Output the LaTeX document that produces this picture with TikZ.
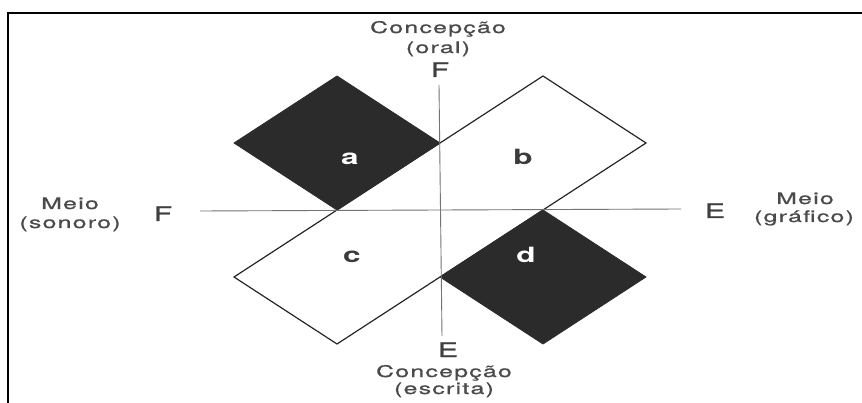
\documentclass[tikz,border=0pt]{standalone}
\usepackage{fontspec}
\setmainfont{TeX Gyre Heros}
\newfontfamily\labfont[FakeStretch=1.55,LetterSpace=8,FakeBold=0.9]{TeX Gyre Heros}
\newfontfamily\letfont[FakeStretch=1.5,FakeBold=1.2]{TeX Gyre Heros}
\newfontfamily\quadfont[FakeStretch=1.5]{TeX Gyre Heros}
\definecolor{txt}{HTML}{4A4A4A}
\definecolor{dark}{HTML}{2B2B2B}
\begin{document}
\begin{tikzpicture}[x=1pt,y=-1pt,
  lab/.style={font=\labfont\fontsize{16}{18}\selectfont, text=txt, inner sep=0pt, anchor=base},
  axletter/.style={font=\letfont\fontsize{20}{21}\selectfont, text=txt!85!black, inner sep=0pt, anchor=base},
  quadlabel/.style={font=\quadfont\bfseries\fontsize{21}{22}\selectfont, inner sep=0pt, anchor=base},
  axisline/.style={draw=black!55, line width=0.9pt},
  strip/.style={draw=black!85, line width=1.2pt, fill=white, line join=miter},
  blackdiamond/.style={fill=dark, draw=dark, line width=0.8pt, line join=miter},
  frameline/.style={draw=black, line width=2.6pt}]
\useasboundingbox (0,0) rectangle (862,403);
\fill[white] (0,0) rectangle (862,403);
% frame (left and top edges visible)
\coordinate (fbl) at (8,403);
\coordinate (ftl) at (8,13);
\coordinate (ftr) at (862,13);
\draw[frameline] (fbl) -- (ftl) -- (ftr);
% white strip
\coordinate (s1) at (234,277);
\coordinate (s2) at (543,76);
\coordinate (s3) at (646,143);
\coordinate (s4) at (337,344);
\draw[strip] (s1) -- (s2) -- (s3) -- (s4) -- cycle;
% black diamonds
\coordinate (at) at (337,76);
\coordinate (al) at (234,143);
\coordinate (ab) at (337,210);
\coordinate (ar) at (440,143);
\filldraw[blackdiamond] (at) -- (al) -- (ab) -- (ar) -- cycle;
\coordinate (dt) at (543,210);
\coordinate (dl) at (440,277);
\coordinate (db) at (543,344);
\coordinate (dr) at (646,277);
\filldraw[blackdiamond] (dt) -- (dl) -- (db) -- (dr) -- cycle;
% axes
\coordinate (vt) at (439,85);
\coordinate (vb) at (442,336);
\coordinate (hl) at (200,211);
\coordinate (hr) at (681,209);
\draw[axisline] (vt) -- (vb);
\draw[axisline] (hl) -- (hr);
% quadrant labels
\node[quadlabel, text=white] (la) at (350,165) {a};
\node[quadlabel, text=txt!80!black] (lb) at (523,165) {b};
\node[quadlabel, text=txt!80!black] (lc) at (352,263) {c};
\node[quadlabel, text=white] (ld) at (526,263) {d};
% top labels
\node[lab] (tc) at (438,33) {Concepção};
\node[lab] (to) at (438,53) {(oral)};
\node[axletter] (tf) at (440,77) {F};
% bottom labels
\node[axletter] (be) at (448,357) {E};
\node[lab] (bc) at (444,377) {Concepção};
\node[lab] (bs) at (444,394) {(escrita)};
% left labels
\node[lab] (lm) at (70,209) {Meio};
\node[lab] (ls) at (70,228) {(sonoro)};
\node[axletter] (lf) at (163,221) {F};
% right labels
\node[axletter] (re) at (715,218) {E};
\node[lab] (rm) at (805,204) {Meio};
\node[lab] (rg) at (804,222) {(gráfico)};
\end{tikzpicture}
\end{document}
